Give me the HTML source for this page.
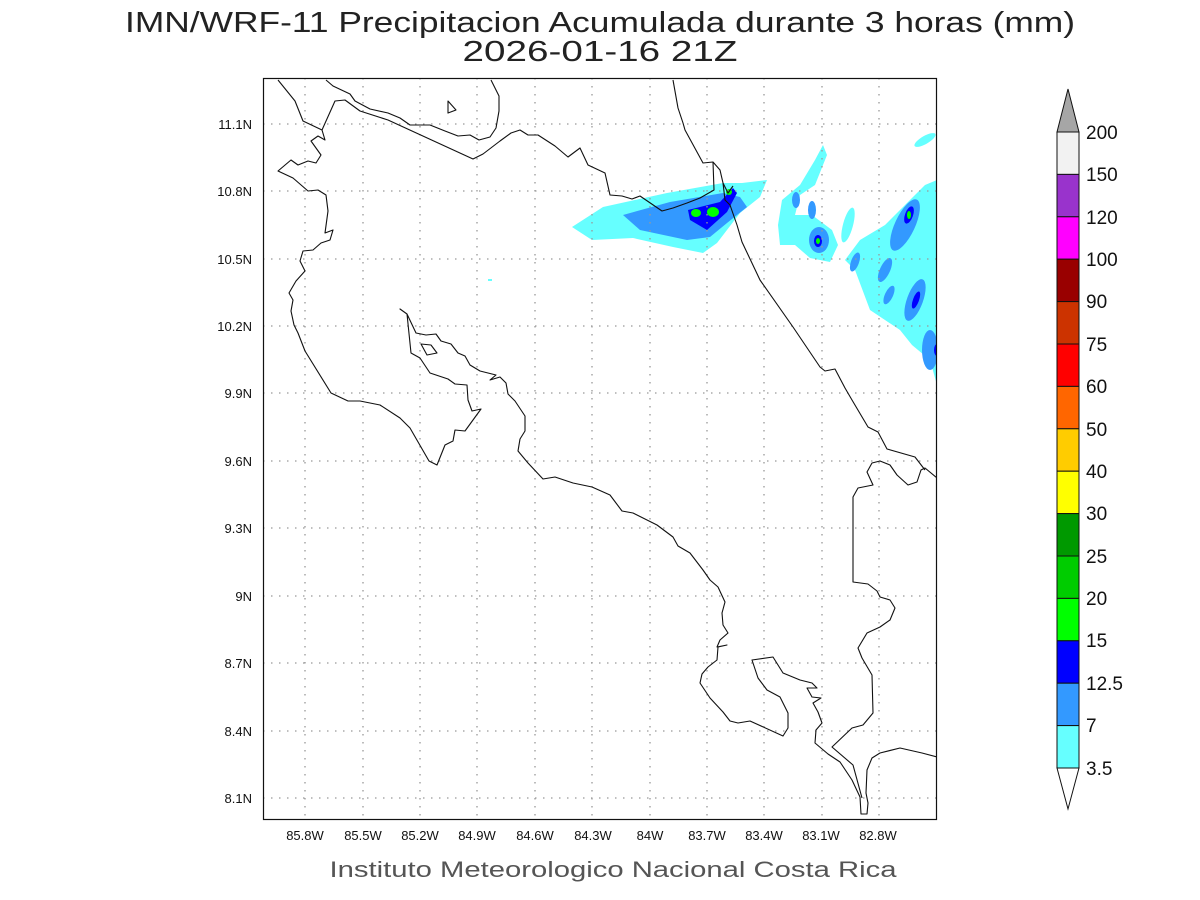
<!DOCTYPE html>
<html><head><meta charset="utf-8"><style>
html,body{margin:0;padding:0;background:#fff;}
svg{display:block;font-family:"Liberation Sans",sans-serif;}
</style></head><body>
<svg width="1200" height="900" viewBox="0 0 1200 900" xmlns="http://www.w3.org/2000/svg">
<rect width="1200" height="900" fill="#fff"/>
<text x="600" y="32" font-size="29" text-anchor="middle" textLength="950" lengthAdjust="spacingAndGlyphs" fill="#222">IMN/WRF-11 Precipitacion Acumulada durante 3 horas (mm)</text>
<text x="600" y="61" font-size="29" text-anchor="middle" textLength="275" lengthAdjust="spacingAndGlyphs" fill="#222">2026-01-16 21Z</text>

<defs><clipPath id="c"><rect x="263" y="78" width="674" height="742"/></clipPath>
<filter id="b"><feGaussianBlur stdDeviation="1.2"/></filter></defs>

<g clip-path="url(#c)">
<!-- precipitation -->
<g>
<polygon fill="#66ffff" points="572,227 603,207 667,193 723,183 742,183 767,180 760,197 740,213 717,243 703,253 673,247 633,238 592,240"/>
<polygon fill="#3399ff" points="623,215 670,202 723,193 740,197 747,207 727,223 710,237 687,240 640,230"/>
<polygon fill="#0000ff" points="688,210 720,202 733,188 737,193 727,212 707,230 690,220"/>
<ellipse cx="696" cy="213" rx="5" ry="4" fill="#00ff00"/>
<ellipse cx="713" cy="212" rx="6" ry="5" fill="#00ff00"/>
<ellipse cx="729" cy="192" rx="3" ry="3" fill="#00ff00"/>
<polygon fill="#66ffff" points="823,145 827,155 815,185 800,195 795,215 812,215 832,230 838,245 830,262 810,258 795,245 780,245 778,225 782,200 800,185 815,160"/>
<ellipse cx="848" cy="225" rx="5" ry="18" fill="#66ffff" transform="rotate(15 848 225)"/>
<ellipse cx="819" cy="240" rx="10" ry="13" fill="#3399ff"/>
<ellipse cx="818" cy="241" rx="4" ry="6" fill="#0000ff"/>
<ellipse cx="818" cy="241" rx="2" ry="3" fill="#00ff00"/>
<ellipse cx="796" cy="200" rx="4" ry="8" fill="#3399ff"/>
<ellipse cx="812" cy="210" rx="4" ry="9" fill="#3399ff"/>
<polygon fill="#66ffff" points="937,180 937,385 930,360 912,345 900,330 885,320 870,310 855,270 845,260 860,240 885,225 905,205 925,185"/>
<ellipse cx="925" cy="140" rx="12" ry="4" fill="#66ffff" transform="rotate(-30 925 140)"/>
<ellipse cx="905" cy="225" rx="10" ry="28" fill="#3399ff" transform="rotate(25 905 225)"/>
<ellipse cx="909" cy="215" rx="4" ry="9" fill="#0000ff" transform="rotate(20 909 215)"/>
<ellipse cx="909" cy="215" rx="2" ry="4" fill="#00ff00"/>
<ellipse cx="915" cy="300" rx="8" ry="22" fill="#3399ff" transform="rotate(20 915 300)"/>
<ellipse cx="916" cy="300" rx="3" ry="9" fill="#0000ff" transform="rotate(20 916 300)"/>
<ellipse cx="930" cy="350" rx="8" ry="20" fill="#3399ff"/>
<ellipse cx="937" cy="350" rx="3" ry="6" fill="#0000ff"/>
<ellipse cx="855" cy="262" rx="4" ry="10" fill="#3399ff" transform="rotate(20 855 262)"/>
<ellipse cx="885" cy="270" rx="5" ry="13" fill="#3399ff" transform="rotate(25 885 270)"/>
<ellipse cx="889" cy="295" rx="4" ry="10" fill="#3399ff" transform="rotate(25 889 295)"/>
<rect x="488" y="279" width="4" height="2" fill="#66ffff"/>
</g>

<!-- grid -->
<g stroke="#999" stroke-width="1.3" stroke-dasharray="1.5,6.5">
<line x1="305" y1="78" x2="305" y2="820"/><line x1="363" y1="78" x2="363" y2="820"/>
<line x1="420" y1="78" x2="420" y2="820"/><line x1="477" y1="78" x2="477" y2="820"/>
<line x1="535" y1="78" x2="535" y2="820"/><line x1="592" y1="78" x2="592" y2="820"/>
<line x1="650" y1="78" x2="650" y2="820"/><line x1="707" y1="78" x2="707" y2="820"/>
<line x1="764" y1="78" x2="764" y2="820"/><line x1="822" y1="78" x2="822" y2="820"/>
<line x1="879" y1="78" x2="879" y2="820"/>
<line x1="263" y1="124" x2="937" y2="124"/><line x1="263" y1="191" x2="937" y2="191"/>
<line x1="263" y1="259" x2="937" y2="259"/><line x1="263" y1="326" x2="937" y2="326"/>
<line x1="263" y1="393" x2="937" y2="393"/><line x1="263" y1="461" x2="937" y2="461"/>
<line x1="263" y1="528" x2="937" y2="528"/><line x1="263" y1="596" x2="937" y2="596"/>
<line x1="263" y1="663" x2="937" y2="663"/><line x1="263" y1="731" x2="937" y2="731"/>
<line x1="263" y1="798" x2="937" y2="798"/>
</g>

<!-- coastlines -->
<g fill="none" stroke="#111" stroke-width="1.1" stroke-linejoin="round">
<polyline points="278,80 295,101 303,121 322,130 325,140 318,136 311,141 321,155 316,163 308,161 298,165 291,160 278,171 293,178 308,191 318,190 326,195 328,211 325,233 333,230 330,240 321,243 313,250 303,251 300,261 305,271 296,281 289,293 293,300 291,311 294,325 298,333 305,351 331,393 348,401 360,401 380,405 400,418 410,428 429,461 437,465 445,445 453,441 455,430 465,431 481,409 472,411 468,400 467,385 455,384 448,379 430,373 420,358 411,353 407,314 400,309 407,314 416,333 426,335 436,334 441,341 451,344 458,353 465,356 470,365 480,371 496,375 490,380 500,377 506,383 508,394 515,401 525,416 525,431 520,439 518,451 528,463 543,479 555,477 573,483 592,487 610,495 622,511 633,513 657,525 673,537 678,546 690,553 703,570 710,580 718,587 725,602 722,613 723,625 728,633 720,640 717,647 727,645 718,647 717,660 708,667 702,674 700,683 710,698 723,712 730,721 738,723 750,721 783,736 788,728 788,713 780,697 767,690 758,678 752,660 773,657 783,673 800,680 812,683 817,688 807,688 812,697 821,698 813,703 818,712 822,723 816,730 815,743 828,754 840,762 852,780 860,797 861,814 867,814 868,803 866,793 867,770 872,758 880,753 900,748 922,753 937,757"/>
<polyline points="862,798 853,765 832,747 852,728 863,725 873,713 872,675 862,658 858,648 867,633 880,627 890,620 895,608 890,600 880,597 877,591 868,584 853,582 853,497 858,488 873,485 867,472 872,463 880,461 890,465 897,475 908,485 917,482 921,470 925,468 937,478"/>
<polyline points="925,470 915,457 887,449 878,432 868,427 852,400 845,388 835,369 825,371 820,367 793,327 760,280 742,242 737,225 730,205 725,200 723,183 728,193 733,186"/>
<polyline points="723,183 720,170 713,162 703,163 685,130 683,123 678,108 673,80"/>
<polyline points="713,162 714,190 700,198 687,203 673,208 662,211 640,196 632,199 622,196 610,195 605,173 588,165 580,148 568,157 555,146 538,135 528,135 520,130 511,133 500,141 483,154 473,159 388,120 360,111 345,100 335,101 322,130"/>
<polyline points="326,80 333,86 350,94 355,101 370,109 388,113 400,118 410,125 430,125 445,131 458,136 470,135 479,140 490,137 496,128 499,111 499,96 491,80"/>
<polygon points="448,101 456,110 448,113"/>
<polygon points="421,344 431,345 437,353 427,355"/>
</g>
</g>
<rect x="263.5" y="78.5" width="673" height="741" fill="none" stroke="#111" stroke-width="1.2"/>

<!-- axis labels -->
<g font-size="13" fill="#111" text-anchor="middle">
<text x="305" y="840">85.8W</text><text x="363" y="840">85.5W</text><text x="420" y="840">85.2W</text>
<text x="477" y="840">84.9W</text><text x="535" y="840">84.6W</text><text x="593" y="840">84.3W</text>
<text x="650" y="840">84W</text><text x="707" y="840">83.7W</text><text x="764" y="840">83.4W</text>
<text x="821" y="840">83.1W</text><text x="878" y="840">82.8W</text>
</g>
<g font-size="13" fill="#111" text-anchor="end">
<text x="252" y="129">11.1N</text><text x="252" y="196">10.8N</text><text x="252" y="264">10.5N</text>
<text x="252" y="331">10.2N</text><text x="252" y="398">9.9N</text><text x="252" y="466">9.6N</text>
<text x="252" y="533">9.3N</text><text x="252" y="601">9N</text><text x="252" y="668">8.7N</text>
<text x="252" y="736">8.4N</text><text x="252" y="803">8.1N</text>
</g>
<text x="613" y="877" font-size="22" fill="#555" text-anchor="middle" textLength="567" lengthAdjust="spacingAndGlyphs">Instituto Meteorologico Nacional Costa Rica</text>

<!-- colorbar -->
<g stroke="#111" stroke-width="1">
<polygon points="1057,132 1079,132 1068,89" fill="#a6a6a6"/>
<rect x="1057" y="132" width="22" height="42.4" fill="#f2f2f2"/>
<rect x="1057" y="174.4" width="22" height="42.4" fill="#9933cc"/>
<rect x="1057" y="216.8" width="22" height="42.4" fill="#ff00ff"/>
<rect x="1057" y="259.2" width="22" height="42.4" fill="#990000"/>
<rect x="1057" y="301.6" width="22" height="42.4" fill="#cc3300"/>
<rect x="1057" y="344" width="22" height="42.4" fill="#ff0000"/>
<rect x="1057" y="386.4" width="22" height="42.4" fill="#ff6600"/>
<rect x="1057" y="428.8" width="22" height="42.4" fill="#ffcc00"/>
<rect x="1057" y="471.2" width="22" height="42.4" fill="#ffff00"/>
<rect x="1057" y="513.6" width="22" height="42.4" fill="#009900"/>
<rect x="1057" y="556" width="22" height="42.4" fill="#00cc00"/>
<rect x="1057" y="598.4" width="22" height="42.4" fill="#00ff00"/>
<rect x="1057" y="640.8" width="22" height="42.4" fill="#0000ff"/>
<rect x="1057" y="683.2" width="22" height="42.4" fill="#3399ff"/>
<rect x="1057" y="725.6" width="22" height="42.4" fill="#66ffff"/>
<polygon points="1057,768 1079,768 1068,809" fill="#fff"/>
</g>
<g font-size="19" fill="#111">
<text x="1086" y="139">200</text><text x="1086" y="181">150</text><text x="1086" y="224">120</text>
<text x="1086" y="266">100</text><text x="1086" y="308">90</text><text x="1086" y="351">75</text>
<text x="1086" y="393">60</text><text x="1086" y="436">50</text><text x="1086" y="478">40</text>
<text x="1086" y="520">30</text><text x="1086" y="563">25</text><text x="1086" y="605">20</text>
<text x="1086" y="647">15</text><text x="1086" y="690">12.5</text><text x="1086" y="732">7</text>
<text x="1086" y="775">3.5</text>
</g>
</svg>
</body></html>
